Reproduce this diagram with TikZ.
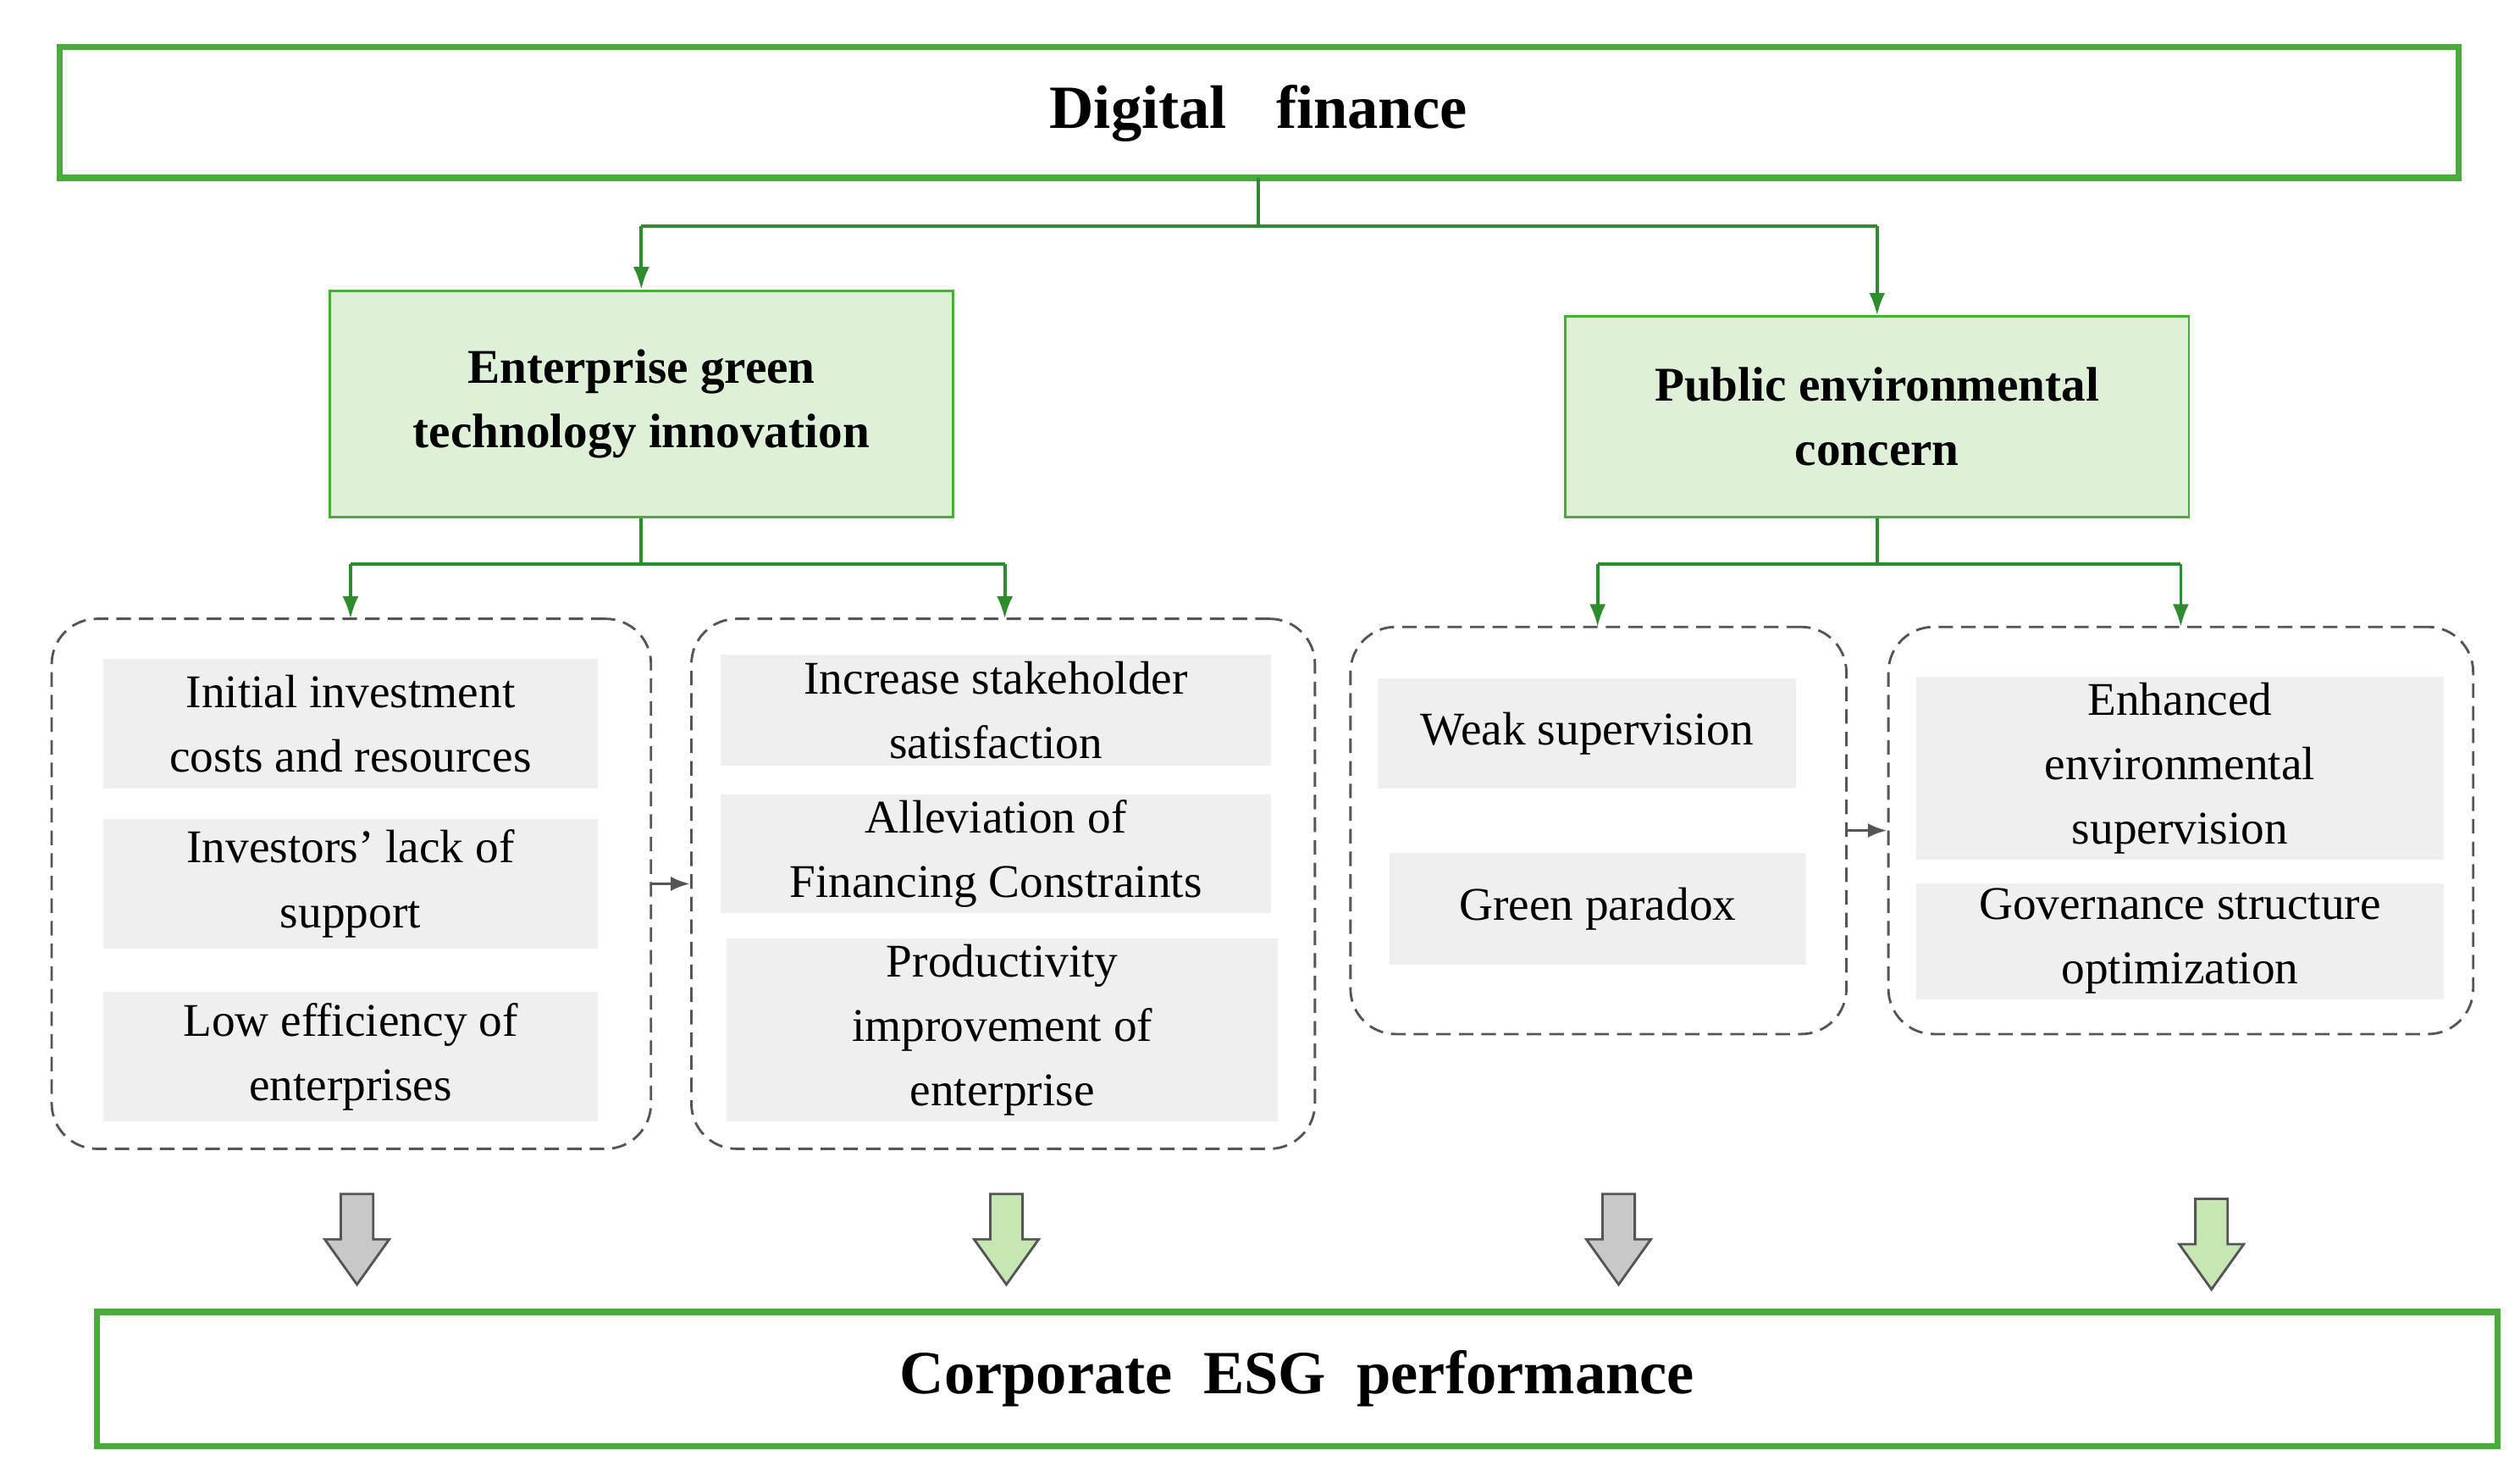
\documentclass[tikz,border=0pt]{standalone}
\usepackage{fontspec}
\setmainfont{Liberation Serif}
\usetikzlibrary{arrows.meta}
\definecolor{gborder}{HTML}{4BAA3C}
\definecolor{gline}{HTML}{2E8B2E}
\definecolor{gfill}{HTML}{DFF0D9}
\definecolor{ifill}{HTML}{EFEFEF}
\definecolor{dgray}{HTML}{555555}
\definecolor{agreen}{HTML}{C6E7B4}
\definecolor{agray}{HTML}{C8C8C8}
\begin{document}
\begin{tikzpicture}[x=1pt,y=-1pt,
  bigbox/.style={draw=gborder,line width=4pt,inner sep=0pt},
  midbox/.style={draw=gborder,fill=gfill,line width=1.5pt,align=center,font=\fontsize{30}{40}\selectfont\bfseries},
  itembox/.style={fill=ifill,align=center,font=\fontsize{29}{40}\selectfont},
  dbox/.style={draw=dgray,dashed,line width=1.5pt,rounded corners=28pt,dash pattern=on 9pt off 5pt},
  conn/.style={draw=gline,line width=2pt,-{Latex[length=14pt,width=10pt]}},
  conn0/.style={draw=gline,line width=2pt},
  sconn/.style={draw=dgray,line width=2pt,-{Latex[length=12pt,width=9pt]}},
  blk/.style={draw=dgray,line width=1.5pt}]
\useasboundingbox (0,0) rectangle (1560,904);
% big boxes
\draw[bigbox] (37,29) rectangle (1522,110);
\node[font=\fontsize{38}{44}\selectfont\bfseries] (df) at (779,70) {Digital\hspace{0.8em}finance};
\coordinate (dfb) at (779,110);
\draw[bigbox] (60,812) rectangle (1546,895);
\node[font=\fontsize{38}{44}\selectfont\bfseries] (esg) at (803,853) {Corporate\hspace{0.5em}ESG\hspace{0.5em}performance};
% mid boxes
\node[midbox,minimum width=386pt,minimum height=140pt] (egt) at (397,250) {Enterprise green\\technology innovation};
\node[midbox,minimum width=386pt,minimum height=124pt] (pec) at (1162,258) {Public environmental\\concern};
% connectors from top
\coordinate (j1) at (779,140);
\coordinate (j1l) at (397,140);
\coordinate (j1r) at (1162,140);
\draw[conn0] (dfb) -- (j1);
\draw[conn0] (j1l) -- (j1r);
\draw[conn] (j1l) -- (egt.north);
\draw[conn] (j1r) -- (pec.north);
% dashed boxes
\node[dbox,minimum width=371pt,minimum height=328pt] (d1) at (217.5,547) {};
\node[dbox,minimum width=386pt,minimum height=328pt] (d2) at (621,547) {};
\node[dbox,minimum width=307pt,minimum height=252pt] (d3) at (989.5,514) {};
\node[dbox,minimum width=362pt,minimum height=252pt] (d4) at (1350,514) {};
% connectors from mid boxes
\coordinate (j2) at (397,349);
\coordinate (j2l) at (217,349);
\coordinate (j2r) at (622,349);
\draw[conn0] (egt.south) -- (j2);
\draw[conn0] (j2l) -- (j2r);
\draw[conn] (j2l) -- (217,383);
\draw[conn] (j2r) -- (622,383);
\coordinate (j3) at (1162,349);
\coordinate (j3l) at (989,349);
\coordinate (j3r) at (1350,349);
\draw[conn0] (pec.south) -- (j3);
\draw[conn0] (j3l) -- (j3r);
\draw[conn] (j3l) -- (989,388);
\draw[conn] (j3r) -- (1350,388);
% items
\node[itembox,minimum width=306pt,minimum height=80pt] (a1) at (217,448) {Initial investment\\costs and resources};
\node[itembox,minimum width=306pt,minimum height=80pt] (a2) at (217,547) {Investors' lack of\\support};
\node[itembox,minimum width=306pt,minimum height=80pt] (a3) at (217,654) {Low efficiency of\\enterprises};
\node[itembox,minimum width=341pt,minimum height=69pt] (b1) at (616.5,439.5) {Increase stakeholder\\satisfaction};
\node[itembox,minimum width=341pt,minimum height=69pt] (b2) at (616.5,528.5) {Alleviation of\\Financing Constraints};
\node[itembox,minimum width=341pt,minimum height=109pt] (b3) at (620.5,637.5) {Productivity\\improvement of\\enterprise};
\node[itembox,minimum width=259pt,minimum height=68pt] (c1) at (982.5,454) {Weak supervision};
\node[itembox,minimum width=258pt,minimum height=69pt] (c2) at (989,562.5) {Green paradox};
\node[itembox,minimum width=327pt,minimum height=113pt] (e1) at (1349.5,475.5) {Enhanced\\environmental\\supervision};
\node[itembox,minimum width=327pt,minimum height=69pt] (e2) at (1349.5,582.5) {Governance structure\\optimization};
% small arrows
\draw[sconn] (d1.east) -- (d2.west);
\draw[sconn] (d3.east) -- (d4.west);
% block arrows
\foreach \x/\y/\c in {221/739/agray,623/739/agreen,1002/739/agray,1369/742/agreen}{
  \draw[blk,fill=\c] (\x-10,\y) -- (\x+10,\y) -- (\x+10,\y+28) -- (\x+20,\y+28) -- (\x,\y+56) -- (\x-20,\y+28) -- (\x-10,\y+28) -- cycle;
}
\end{tikzpicture}
\end{document}
